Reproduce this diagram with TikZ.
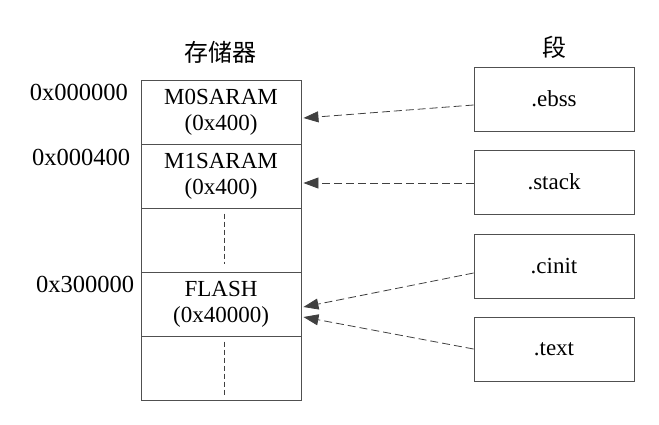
\documentclass[tikz,border=0pt]{standalone}
\usepackage{fontspec}
\setmainfont{Liberation Serif}
\newfontfamily\cjk{Noto Sans CJK SC}
\usetikzlibrary{arrows.meta}
\definecolor{linegray}{HTML}{404040}
\definecolor{boxgray}{HTML}{505050}
\tikzset{
  mem/.style={draw=boxgray, line width=0.9pt, minimum width=160pt, minimum height=64pt,
    inner sep=0pt, align=center, font=\fontsize{23}{26}\selectfont},
  seg/.style={mem},
  addr/.style={font=\fontsize{24.5}{26}\selectfont, inner sep=0pt},
  title/.style={font=\cjk\fontsize{24}{26}\selectfont, inner sep=0pt},
  link/.style={draw=linegray, line width=0.8pt, dash pattern=on 8pt off 4pt,
    -{Triangle[length=15pt,width=11pt,fill=linegray]}},
  gapline/.style={draw=linegray, line width=0.7pt, dash pattern=on 5pt off 3pt}
}
\begin{document}
\begin{tikzpicture}[x=1pt, y=-1pt]
    \useasboundingbox (0,0) rectangle (659,424);

    % titles
    \node [title] (memtitle) at (220,52) {存储器};
    \node [title] (segtitle) at (554,47) {段};

    % memory map
    \node [mem] (m0)    at (221,112) {M0SARAM\\(0x400)};
    \node [mem] (m1)    at (221,176) {M1SARAM\\(0x400)};
    \node [mem] (gap1)  at (221,240) {};
    \node [mem] (flash) at (221,304) {FLASH\\(0x40000)};
    \node [mem] (gap2)  at (221,368) {};

    % dots in the empty rows
    \draw [gapline] ([xshift=3pt,yshift=-6pt]gap1.north) -- ([xshift=3pt,yshift=8pt]gap1.south);
    \draw [gapline] ([xshift=3pt,yshift=-6pt]gap2.north) -- ([xshift=3pt,yshift=5pt]gap2.south);

    % addresses
    \node [addr] (a0) at (79,92)  {0x000000};
    \node [addr] (a1) at (81,157) {0x000400};
    \node [addr] (a2) at (85,284) {0x300000};

    % sections
    \node [seg] (ebss)  at (554,99)  {.ebss};
    \node [seg] (stack) at (554,182) {.stack};
    \node [seg] (cinit) at (554,266) {.cinit};
    \node [seg] (text)  at (554,349) {.text};

    % links
    \draw [link] ([yshift=-6pt]ebss.west)  -- ([xshift=2pt,yshift=-6pt]m0.east);
    \draw [link] ([yshift=-1pt]stack.west) -- ([xshift=2pt,yshift=-7pt]m1.east);
    \draw [link] ([yshift=-7pt]cinit.west) -- ([xshift=2pt,yshift=-3pt]flash.east);
    \draw [link] (text.west)               -- ([xshift=2pt,yshift=-13pt]flash.east);
\end{tikzpicture}
\end{document}
